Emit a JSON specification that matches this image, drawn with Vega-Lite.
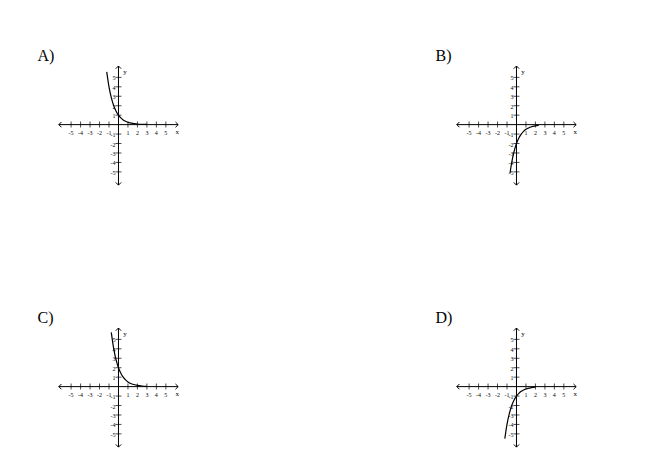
{
"$schema": "https://vega.github.io/schema/vega-lite/v6.json",
"background": "white",
"padding": {"left": 37, "top": 48, "right": 0, "bottom": 0},
"config": {"view": {"stroke": null}, "text": {"font": "Liberation Serif", "color": "black"}},
"datasets": {
  "ticks": [{"v":-5,"label":"-5"},{"v":-4,"label":"-4"},{"v":-3,"label":"-3"},{"v":-2,"label":"-2"},{"v":-1,"label":"-1"},{"v":1,"label":"1"},{"v":2,"label":"2"},{"v":3,"label":"3"},{"v":4,"label":"4"},{"v":5,"label":"5"}],
  "axisLines": [{"x1":-6.3,"x2":6.3,"y1":0,"y2":0},{"x1":0,"x2":0,"y1":-6.4,"y2":6.2}],
  "arrows": [{"x":6.3,"y":0,"dir":"right"},{"x":-6.3,"y":0,"dir":"left"},{"x":0,"y":6.2,"dir":"up"},{"x":0,"y":-6.4,"dir":"down"}],
  "axisNames": [{"x":6.2,"y":-0.75,"t":"x"},{"x":0.7,"y":5.6,"t":"y"}],
  "names": [{"panel":"A","t":"A)","x":-8.55,"y":7.25},{"panel":"B","t":"B)","x":-8.55,"y":7.25},{"panel":"C","t":"C)","x":-8.55,"y":7.25},{"panel":"D","t":"D)","x":-8.55,"y":7.25}],
  "curves": [
    {"panel":"A","x":-1.24,"y":5.58},{"panel":"A","x":-1.0,"y":4.0},{"panel":"A","x":-0.75,"y":2.83},{"panel":"A","x":-0.5,"y":2.0},{"panel":"A","x":-0.25,"y":1.41},{"panel":"A","x":0,"y":1.0},{"panel":"A","x":0.25,"y":0.71},{"panel":"A","x":0.5,"y":0.5},{"panel":"A","x":0.75,"y":0.35},{"panel":"A","x":1.0,"y":0.25},{"panel":"A","x":1.5,"y":0.125},{"panel":"A","x":2.0,"y":0.063},{"panel":"A","x":2.5,"y":0.031},{"panel":"A","x":3.0,"y":0.016},
    {"panel":"B","x":-0.68,"y":-5.13},{"panel":"B","x":-0.5,"y":-4.0},{"panel":"B","x":-0.25,"y":-2.83},{"panel":"B","x":0,"y":-2.0},{"panel":"B","x":0.25,"y":-1.41},{"panel":"B","x":0.5,"y":-1.0},{"panel":"B","x":0.75,"y":-0.71},{"panel":"B","x":1.0,"y":-0.5},{"panel":"B","x":1.5,"y":-0.25},{"panel":"B","x":2.0,"y":-0.125},{"panel":"B","x":2.35,"y":-0.078},
    {"panel":"C","x":-0.76,"y":5.74},{"panel":"C","x":-0.5,"y":4.0},{"panel":"C","x":-0.25,"y":2.83},{"panel":"C","x":0,"y":2.0},{"panel":"C","x":0.25,"y":1.41},{"panel":"C","x":0.5,"y":1.0},{"panel":"C","x":0.75,"y":0.71},{"panel":"C","x":1.0,"y":0.5},{"panel":"C","x":1.5,"y":0.25},{"panel":"C","x":2.0,"y":0.125},{"panel":"C","x":2.5,"y":0.063},{"panel":"C","x":3.0,"y":0.031},
    {"panel":"D","x":-1.23,"y":-5.5},{"panel":"D","x":-1.0,"y":-4.0},{"panel":"D","x":-0.75,"y":-2.83},{"panel":"D","x":-0.5,"y":-2.0},{"panel":"D","x":-0.25,"y":-1.41},{"panel":"D","x":0,"y":-1.0},{"panel":"D","x":0.25,"y":-0.71},{"panel":"D","x":0.5,"y":-0.5},{"panel":"D","x":0.75,"y":-0.35},{"panel":"D","x":1.0,"y":-0.25},{"panel":"D","x":1.5,"y":-0.125},{"panel":"D","x":2.0,"y":-0.063}
  ]
},
"spacing": 122,
"vconcat": [
 {"hconcat": [
  {"width":144,"height":138,"layer":[
   {"data":{"name":"axisLines"},"mark":{"type":"rule","color":"black","strokeWidth":1},"encoding":{"x":{"field":"x1","type":"quantitative","scale":{"domain":[-8.6,6.6],"nice":false,"zero":false},"axis":null},"x2":{"field":"x2"},"y":{"field":"y1","type":"quantitative","scale":{"domain":[-6.6,8.0],"nice":false,"zero":false},"axis":null},"y2":{"field":"y2"}}},
   {"data":{"name":"arrows"},"mark":{"type":"point","filled":false,"stroke":"black","strokeWidth":1,"size":28,"opacity":1},"encoding":{"x":{"field":"x","type":"quantitative"},"y":{"field":"y","type":"quantitative"},"shape":{"field":"dir","type":"nominal","scale":{"domain":["right","left","up","down"],"range":["M -1 -1 L 0 0 L -1 1","M 1 -1 L 0 0 L 1 1","M -1 1 L 0 0 L 1 1","M -1 -1 L 0 0 L 1 -1"]},"legend":null}}},
   {"data":{"name":"ticks"},"mark":{"type":"tick","orient":"vertical","color":"black","size":6,"thickness":1},"encoding":{"x":{"field":"v","type":"quantitative"},"y":{"datum":0}}},
   {"data":{"name":"ticks"},"mark":{"type":"tick","orient":"horizontal","color":"black","size":6,"thickness":1},"encoding":{"y":{"field":"v","type":"quantitative"},"x":{"datum":0}}},
   {"data":{"name":"ticks"},"mark":{"type":"text","fontSize":6,"dy":8,"baseline":"middle","align":"center","color":"black","opacity":0.99},"encoding":{"x":{"field":"v","type":"quantitative"},"y":{"datum":0},"text":{"field":"label"}}},
   {"data":{"name":"ticks"},"mark":{"type":"text","fontSize":6,"dx":-3,"dy":1,"baseline":"middle","align":"right","color":"black","opacity":0.99},"encoding":{"y":{"field":"v","type":"quantitative"},"x":{"datum":0},"text":{"field":"label"}}},
   {"data":{"name":"axisNames"},"mark":{"type":"text","fontSize":7,"baseline":"middle","align":"center","color":"black","opacity":0.99},"encoding":{"x":{"field":"x","type":"quantitative"},"y":{"field":"y","type":"quantitative"},"text":{"field":"t"}}},
   {"data":{"name":"names"},"transform":[{"filter":"datum.panel==='A'"}],"mark":{"type":"text","fontSize":16,"baseline":"middle","align":"left","color":"black","opacity":0.99},"encoding":{"x":{"field":"x","type":"quantitative"},"y":{"field":"y","type":"quantitative"},"text":{"field":"t"}}},
   {"data":{"name":"curves"},"transform":[{"filter":"datum.panel==='A'"}],"mark":{"type":"line","color":"black","strokeWidth":1.2,"interpolate":"monotone"},"encoding":{"x":{"field":"x","type":"quantitative"},"y":{"field":"y","type":"quantitative"}}}
  ]},
  {"width":144,"height":138,"layer":[
   {"data":{"name":"axisLines"},"mark":{"type":"rule","color":"black","strokeWidth":1},"encoding":{"x":{"field":"x1","type":"quantitative","scale":{"domain":[-8.6,6.6],"nice":false,"zero":false},"axis":null},"x2":{"field":"x2"},"y":{"field":"y1","type":"quantitative","scale":{"domain":[-6.6,8.0],"nice":false,"zero":false},"axis":null},"y2":{"field":"y2"}}},
   {"data":{"name":"arrows"},"mark":{"type":"point","filled":false,"stroke":"black","strokeWidth":1,"size":28,"opacity":1},"encoding":{"x":{"field":"x","type":"quantitative"},"y":{"field":"y","type":"quantitative"},"shape":{"field":"dir","type":"nominal","scale":{"domain":["right","left","up","down"],"range":["M -1 -1 L 0 0 L -1 1","M 1 -1 L 0 0 L 1 1","M -1 1 L 0 0 L 1 1","M -1 -1 L 0 0 L 1 -1"]},"legend":null}}},
   {"data":{"name":"ticks"},"mark":{"type":"tick","orient":"vertical","color":"black","size":6,"thickness":1},"encoding":{"x":{"field":"v","type":"quantitative"},"y":{"datum":0}}},
   {"data":{"name":"ticks"},"mark":{"type":"tick","orient":"horizontal","color":"black","size":6,"thickness":1},"encoding":{"y":{"field":"v","type":"quantitative"},"x":{"datum":0}}},
   {"data":{"name":"ticks"},"mark":{"type":"text","fontSize":6,"dy":8,"baseline":"middle","align":"center","color":"black","opacity":0.99},"encoding":{"x":{"field":"v","type":"quantitative"},"y":{"datum":0},"text":{"field":"label"}}},
   {"data":{"name":"ticks"},"mark":{"type":"text","fontSize":6,"dx":-3,"dy":1,"baseline":"middle","align":"right","color":"black","opacity":0.99},"encoding":{"y":{"field":"v","type":"quantitative"},"x":{"datum":0},"text":{"field":"label"}}},
   {"data":{"name":"axisNames"},"mark":{"type":"text","fontSize":7,"baseline":"middle","align":"center","color":"black","opacity":0.99},"encoding":{"x":{"field":"x","type":"quantitative"},"y":{"field":"y","type":"quantitative"},"text":{"field":"t"}}},
   {"data":{"name":"names"},"transform":[{"filter":"datum.panel==='B'"}],"mark":{"type":"text","fontSize":16,"baseline":"middle","align":"left","color":"black","opacity":0.99},"encoding":{"x":{"field":"x","type":"quantitative"},"y":{"field":"y","type":"quantitative"},"text":{"field":"t"}}},
   {"data":{"name":"curves"},"transform":[{"filter":"datum.panel==='B'"}],"mark":{"type":"line","color":"black","strokeWidth":1.2,"interpolate":"monotone"},"encoding":{"x":{"field":"x","type":"quantitative"},"y":{"field":"y","type":"quantitative"}}}
  ]}
 ], "spacing": 254, "bounds": "flush"},
 {"hconcat": [
  {"width":144,"height":138,"layer":[
   {"data":{"name":"axisLines"},"mark":{"type":"rule","color":"black","strokeWidth":1},"encoding":{"x":{"field":"x1","type":"quantitative","scale":{"domain":[-8.6,6.6],"nice":false,"zero":false},"axis":null},"x2":{"field":"x2"},"y":{"field":"y1","type":"quantitative","scale":{"domain":[-6.6,8.0],"nice":false,"zero":false},"axis":null},"y2":{"field":"y2"}}},
   {"data":{"name":"arrows"},"mark":{"type":"point","filled":false,"stroke":"black","strokeWidth":1,"size":28,"opacity":1},"encoding":{"x":{"field":"x","type":"quantitative"},"y":{"field":"y","type":"quantitative"},"shape":{"field":"dir","type":"nominal","scale":{"domain":["right","left","up","down"],"range":["M -1 -1 L 0 0 L -1 1","M 1 -1 L 0 0 L 1 1","M -1 1 L 0 0 L 1 1","M -1 -1 L 0 0 L 1 -1"]},"legend":null}}},
   {"data":{"name":"ticks"},"mark":{"type":"tick","orient":"vertical","color":"black","size":6,"thickness":1},"encoding":{"x":{"field":"v","type":"quantitative"},"y":{"datum":0}}},
   {"data":{"name":"ticks"},"mark":{"type":"tick","orient":"horizontal","color":"black","size":6,"thickness":1},"encoding":{"y":{"field":"v","type":"quantitative"},"x":{"datum":0}}},
   {"data":{"name":"ticks"},"mark":{"type":"text","fontSize":6,"dy":8,"baseline":"middle","align":"center","color":"black","opacity":0.99},"encoding":{"x":{"field":"v","type":"quantitative"},"y":{"datum":0},"text":{"field":"label"}}},
   {"data":{"name":"ticks"},"mark":{"type":"text","fontSize":6,"dx":-3,"dy":1,"baseline":"middle","align":"right","color":"black","opacity":0.99},"encoding":{"y":{"field":"v","type":"quantitative"},"x":{"datum":0},"text":{"field":"label"}}},
   {"data":{"name":"axisNames"},"mark":{"type":"text","fontSize":7,"baseline":"middle","align":"center","color":"black","opacity":0.99},"encoding":{"x":{"field":"x","type":"quantitative"},"y":{"field":"y","type":"quantitative"},"text":{"field":"t"}}},
   {"data":{"name":"names"},"transform":[{"filter":"datum.panel==='C'"}],"mark":{"type":"text","fontSize":16,"baseline":"middle","align":"left","color":"black","opacity":0.99},"encoding":{"x":{"field":"x","type":"quantitative"},"y":{"field":"y","type":"quantitative"},"text":{"field":"t"}}},
   {"data":{"name":"curves"},"transform":[{"filter":"datum.panel==='C'"}],"mark":{"type":"line","color":"black","strokeWidth":1.2,"interpolate":"monotone"},"encoding":{"x":{"field":"x","type":"quantitative"},"y":{"field":"y","type":"quantitative"}}}
  ]},
  {"width":144,"height":138,"layer":[
   {"data":{"name":"axisLines"},"mark":{"type":"rule","color":"black","strokeWidth":1},"encoding":{"x":{"field":"x1","type":"quantitative","scale":{"domain":[-8.6,6.6],"nice":false,"zero":false},"axis":null},"x2":{"field":"x2"},"y":{"field":"y1","type":"quantitative","scale":{"domain":[-6.6,8.0],"nice":false,"zero":false},"axis":null},"y2":{"field":"y2"}}},
   {"data":{"name":"arrows"},"mark":{"type":"point","filled":false,"stroke":"black","strokeWidth":1,"size":28,"opacity":1},"encoding":{"x":{"field":"x","type":"quantitative"},"y":{"field":"y","type":"quantitative"},"shape":{"field":"dir","type":"nominal","scale":{"domain":["right","left","up","down"],"range":["M -1 -1 L 0 0 L -1 1","M 1 -1 L 0 0 L 1 1","M -1 1 L 0 0 L 1 1","M -1 -1 L 0 0 L 1 -1"]},"legend":null}}},
   {"data":{"name":"ticks"},"mark":{"type":"tick","orient":"vertical","color":"black","size":6,"thickness":1},"encoding":{"x":{"field":"v","type":"quantitative"},"y":{"datum":0}}},
   {"data":{"name":"ticks"},"mark":{"type":"tick","orient":"horizontal","color":"black","size":6,"thickness":1},"encoding":{"y":{"field":"v","type":"quantitative"},"x":{"datum":0}}},
   {"data":{"name":"ticks"},"mark":{"type":"text","fontSize":6,"dy":8,"baseline":"middle","align":"center","color":"black","opacity":0.99},"encoding":{"x":{"field":"v","type":"quantitative"},"y":{"datum":0},"text":{"field":"label"}}},
   {"data":{"name":"ticks"},"mark":{"type":"text","fontSize":6,"dx":-3,"dy":1,"baseline":"middle","align":"right","color":"black","opacity":0.99},"encoding":{"y":{"field":"v","type":"quantitative"},"x":{"datum":0},"text":{"field":"label"}}},
   {"data":{"name":"axisNames"},"mark":{"type":"text","fontSize":7,"baseline":"middle","align":"center","color":"black","opacity":0.99},"encoding":{"x":{"field":"x","type":"quantitative"},"y":{"field":"y","type":"quantitative"},"text":{"field":"t"}}},
   {"data":{"name":"names"},"transform":[{"filter":"datum.panel==='D'"}],"mark":{"type":"text","fontSize":16,"baseline":"middle","align":"left","color":"black","opacity":0.99},"encoding":{"x":{"field":"x","type":"quantitative"},"y":{"field":"y","type":"quantitative"},"text":{"field":"t"}}},
   {"data":{"name":"curves"},"transform":[{"filter":"datum.panel==='D'"}],"mark":{"type":"line","color":"black","strokeWidth":1.2,"interpolate":"monotone"},"encoding":{"x":{"field":"x","type":"quantitative"},"y":{"field":"y","type":"quantitative"}}}
  ]}
 ], "spacing": 254, "bounds": "flush"}
]
}
